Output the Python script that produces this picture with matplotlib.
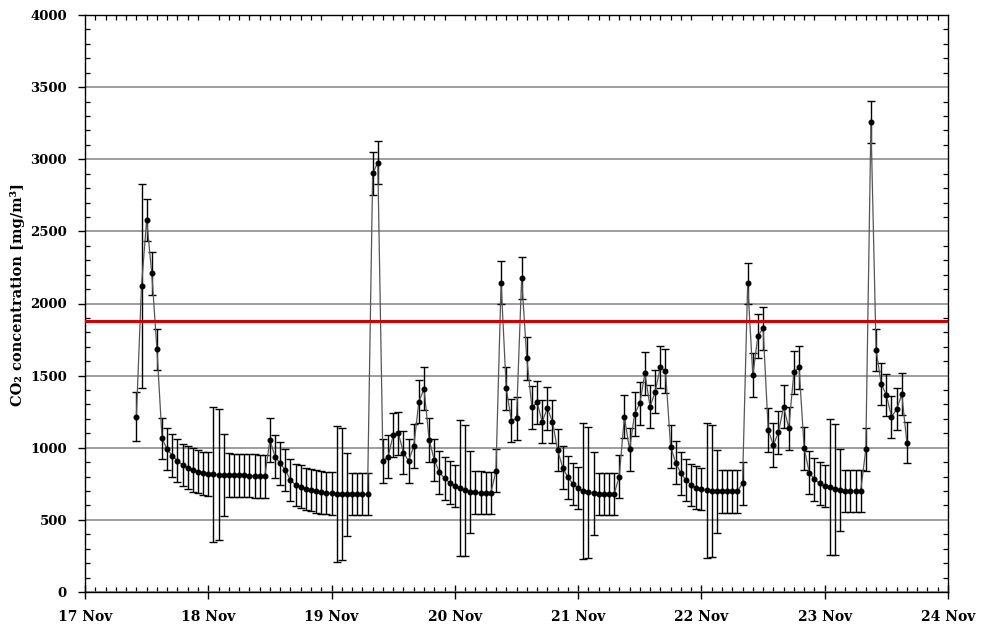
import numpy as np
import pandas as pd
import matplotlib
matplotlib.use('Agg')
from matplotlib import pyplot as plt
import matplotlib.dates as mdates
from matplotlib.ticker import MultipleLocator

# hourly CO2 readings, 17 Nov 10:00 -> 23 Nov 16:00 (mg/m3)
co2_17 = [1215, 2123, 2579, 2209, 1684, 1065, 989, 945, 910, 880, 862, 846, 834, 823]
co2_18 = [818, 815, 813, 812, 811, 810, 810, 808, 806, 805, 803, 803,
          1054, 938, 892, 846, 776, 742, 730, 715, 705, 697, 690, 686]
co2_19 = [683, 680, 678, 677, 677, 677, 677, 677, 2902, 2976, 908, 938,
          1088, 1100, 966, 908, 1012, 1319, 1409, 1054, 915, 830, 788, 758]
co2_20 = [735, 719, 705, 695, 690, 688, 686, 686, 840, 2144, 1412, 1188,
          1204, 2174, 1620, 1280, 1315, 1181, 1273, 1181, 984, 862, 795, 749]
co2_21 = [719, 702, 691, 684, 682, 680, 680, 680, 799, 1215, 989, 1234,
          1308, 1516, 1285, 1389, 1558, 1532, 1007, 896, 823, 776, 742, 723]
co2_22 = [712, 705, 700, 698, 697, 697, 697, 697, 753, 2140, 1504, 1775,
          1828, 1123, 1019, 1107, 1285, 1135, 1523, 1558, 996, 827, 781, 753]
co2_23 = [735, 726, 712, 707, 703, 700, 700, 700, 989, 3260, 1678, 1442,
          1366, 1215, 1266, 1370, 1035]

# standard deviation for each reading
err_17 = [170, 707, 145, 147, 142, 140, 145, 148, 148, 148, 148, 150, 150, 150]
err_18 = [150, 470, 455, 285, 150, 150, 150, 150, 150, 150, 150, 150,
          150, 148, 148, 148, 148, 148, 148, 148, 146, 146, 146, 146]
err_19 = [146, 474, 459, 287, 146, 146, 146, 146, 150, 150, 150, 150,
          150, 150, 150, 150, 150, 150, 150, 150, 148, 148, 148, 148]
err_20 = [148, 471, 455, 283, 148, 148, 148, 148, 148, 150, 150, 150,
          150, 145, 150, 150, 150, 150, 150, 150, 148, 148, 148, 148]
err_21 = [146, 470, 455, 287, 146, 146, 146, 146, 148, 150, 150, 150,
          150, 150, 150, 150, 147, 150, 148, 148, 148, 148, 148, 148]
err_22 = [146, 470, 455, 287, 146, 146, 146, 146, 148, 143, 150, 150,
          150, 150, 150, 150, 150, 150, 150, 150, 148, 148, 148, 148]
err_23 = [148, 472, 455, 285, 146, 146, 146, 146, 148, 145, 145, 145,
          145, 145, 145, 145, 143]

limit_value = 1880

co2 = co2_17 + co2_18 + co2_19 + co2_20 + co2_21 + co2_22 + co2_23
err = err_17 + err_18 + err_19 + err_20 + err_21 + err_22 + err_23
times = pd.date_range('2023-11-17 10:00', periods=len(co2), freq='h')

plt.rcParams['font.family'] = 'DejaVu Serif'
plt.rcParams['font.weight'] = 'bold'

fig = plt.figure(figsize=(9.85, 6.26), dpi=100)
ax = fig.add_axes([85 / 985, 34 / 626, 863 / 985, 577 / 626])

ax.errorbar(times, co2, yerr=err, fmt='-', color='#555555', lw=0.9,
            marker='o', ms=3.3, mfc='black', mec='black',
            ecolor='black', elinewidth=1.0, capsize=3.2, capthick=1.0, zorder=3)
ax.axhline(limit_value, color='#d40000', lw=2.2, zorder=4)

ax.set_ylim(0, 4000)
ax.set_xlim(pd.Timestamp('2023-11-17'), pd.Timestamp('2023-11-24'))
ax.yaxis.set_major_locator(MultipleLocator(500))
ax.yaxis.set_minor_locator(MultipleLocator(100))
ax.xaxis.set_major_locator(mdates.DayLocator())
ax.xaxis.set_minor_locator(mdates.HourLocator(interval=2))
ax.xaxis.set_major_formatter(mdates.DateFormatter('%-d %b'))

ax.grid(axis='y', which='major', color='#8c8c8c', lw=1.2, zorder=1)
ax.set_axisbelow(True)

ax.tick_params(axis='x', which='major', direction='inout', length=10, width=1,
               labelsize=10, pad=8)
ax.tick_params(axis='y', which='major', direction='out', length=5, width=1,
               labelsize=9.5, pad=8)
ax.tick_params(which='minor', direction='in', length=3.5, width=0.9,
               top=True, right=True)
for s in ax.spines.values():
    s.set_linewidth(1.0)
    s.set_color('black')

ax.set_ylabel('CO₂ concentration [mg/m³]', fontsize=10.5, fontweight='bold')
ax.yaxis.set_label_coords(-0.069, 0.515)

fig.savefig('out.png', dpi=100)
